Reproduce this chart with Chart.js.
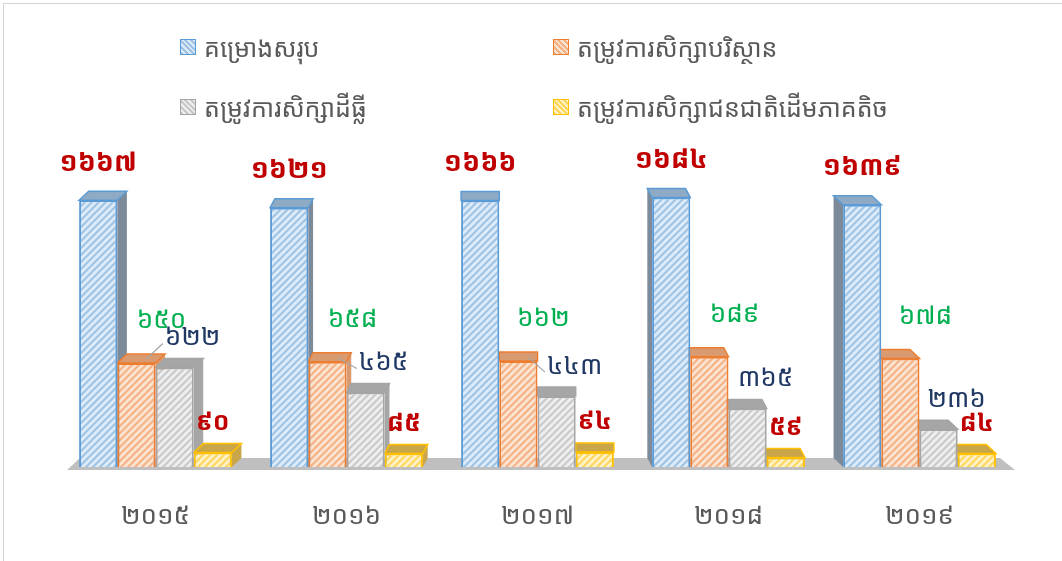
<!DOCTYPE html>
<html><head><meta charset="utf-8">
<script src="https://cdn.jsdelivr.net/npm/chart.js@4"></script>
<style>
html,body{margin:0;padding:0;background:#fff;}
#wrap{position:relative;width:1062px;height:561px;overflow:hidden;background:#fff;}
#frame{position:absolute;left:3px;top:3px;width:1100px;height:600px;border:1.5px solid #d4d4d4;}
#c{position:absolute;left:0;top:0;}
.leg{position:absolute;font-family:"Noto Sans Khmer","Noto Serif Khmer","Khmer OS System","Khmer OS",sans-serif;font-size:25px;color:#595959;white-space:nowrap;display:flex;align-items:center;height:30px;}
.sw{width:16px;height:16px;margin-right:8px;box-sizing:border-box;border:1.5px solid;}
</style></head>
<body>
<div id="wrap">
<div id="frame"></div>
<canvas id="c" width="1062" height="561"></canvas>
<div id="legend"></div>
</div>
<script>
// ---- data ----
const categories = ['២០១៥','២០១៦','២០១៧','២០១៨','២០១៩'];
const seriesNames = ['គម្រោងសរុប','តម្រូវការសិក្សាបរិស្ថាន','តម្រូវការសិក្សាដីធ្លី','តម្រូវការសិក្សាជនជាតិដើមភាគតិច'];
const totalProjects = [1667,1621,1666,1684,1639];
const envStudy = [650,658,662,689,678];
const landStudy = [622,465,443,365,236];
const indigenousStudy = [90,85,94,59,84];

// ---- styles ----
const KH = '"Noto Sans Khmer","Noto Serif Khmer","Khmer OS System","Khmer OS",sans-serif';
const borderCols = ['#5b9bd5','#ed7d31','#a5a5a5','#ffc000'];
const fillBg = ['#deebf7','#fbe3d2','#eeeeee','#fff2c4'];
const fillLine = ['#9dc3e6','#f4b183','#c9c9c9','#ffd55c'];
const topCols = ['#8faac4','#d99a70','#a6a6a6','#c9a64a'];
const labelCols = ['#c00000','#00b050','#203864','#c00000'];
const labelFonts = ['bold 27px '+KH,'26px '+KH,'26px '+KH,'bold 25px '+KH];
const labelOff = [[0,-37],[25,-42],[18,-30],[0,-30]];

const toKh = n => String(n).replace(/[0-9]/g, d => '០១២៣៤៥៦៧៨៩'[d]);

const ctx = document.getElementById('c').getContext('2d');
function hatch(bg, line){
  const c = document.createElement('canvas'); c.width = c.height = 7;
  const x = c.getContext('2d');
  x.fillStyle = bg; x.fillRect(0,0,7,7);
  x.strokeStyle = line; x.lineWidth = 2;
  x.beginPath();
  x.moveTo(-1,8); x.lineTo(8,-1);
  x.moveTo(-4,4); x.lineTo(4,-4);
  x.moveTo(3,11); x.lineTo(11,3);
  x.stroke();
  return ctx.createPattern(c,'repeat');
}

// legend (HTML)
const legPos = [[180,32],[553,32],[180,92],[553,92]];
const legEl = document.getElementById('legend');
seriesNames.forEach((n,i)=>{
  const d = document.createElement('div'); d.className='leg';
  d.style.left = legPos[i][0]+'px'; d.style.top = legPos[i][1]+'px';
  const s = document.createElement('span'); s.className='sw';
  s.style.borderColor = borderCols[i];
  s.style.background = `repeating-linear-gradient(45deg, ${fillLine[i]} 0 2px, ${fillBg[i]} 2px 4px)`;
  d.appendChild(s);
  const t = document.createElement('span'); t.textContent = n; d.appendChild(t);
  legEl.appendChild(d);
});

const seriesData = [totalProjects, envStudy, landStudy, indigenousStudy];

const threeD = {
  id:'threeD',
  beforeDatasetsDraw(chart){
    const c = chart.ctx, a = chart.chartArea;
    c.save();
    // floor
    c.fillStyle = '#bfbfbf';
    c.beginPath();
    c.moveTo(a.left+20, a.bottom-9); c.lineTo(a.right-15, a.bottom-9);
    c.lineTo(a.right, a.bottom+3); c.lineTo(a.left+7, a.bottom+3); c.closePath(); c.fill();
    const cx = (a.left+a.right)/2;
    const dy = 9;
    chart.data.datasets.forEach((ds,i)=>{
      const meta = chart.getDatasetMeta(i);
      meta.data.forEach((b,j)=>{
        const w = b.width, l = b.x - w/2, r = b.x + w/2, t = b.y, bt = b.base;
        const gx = chart.scales.x.getPixelForValue(j);
        const dx = (cx - gx)*0.025;
        // side face
        c.fillStyle = i===0 ? '#7d8a99' : topCols[i];
        c.beginPath();
        if (dx >= 0){
          c.moveTo(r,t); c.lineTo(r+dx,t-dy); c.lineTo(r+dx,bt-dy); c.lineTo(r,bt);
        } else {
          c.moveTo(l,t); c.lineTo(l+dx,t-dy); c.lineTo(l+dx,bt-dy); c.lineTo(l,bt);
        }
        c.closePath(); c.fill();
        // top face
        c.fillStyle = topCols[i];
        c.beginPath();
        c.moveTo(l,t); c.lineTo(l+dx,t-dy); c.lineTo(r+dx,t-dy); c.lineTo(r,t); c.closePath(); c.fill();
        c.strokeStyle = borderCols[i]; c.lineWidth = 1.5; c.stroke();
      });
    });
    c.restore();
  },
  afterDatasetsDraw(chart){
    const c = chart.ctx;
    c.save();
    c.textAlign = 'center'; c.textBaseline = 'middle';
    chart.data.datasets.forEach((ds,i)=>{
      const meta = chart.getDatasetMeta(i);
      meta.data.forEach((b,j)=>{
        const txt = toKh(ds.data[j]);
        const x = b.x + labelOff[i][0], y = b.y + labelOff[i][1];
        c.font = labelFonts[i]; c.fillStyle = labelCols[i];
        c.fillText(txt, x, y);
        if (i===2 && j<3){
          const o = chart.getDatasetMeta(1).data[j];
          const w = c.measureText(txt).width;
          c.strokeStyle = '#a6a6a6'; c.lineWidth = 1.2;
          c.beginPath(); c.moveTo(x - w/2 - 2, y + 6); c.lineTo(o.x + 10, o.y - 4); c.stroke();
        }
      });
    });
    c.restore();
  }
};

new Chart(ctx, {
  type:'bar',
  data:{
    labels: categories,
    datasets: seriesData.map((d,i)=>({
      label: seriesNames[i], data: d,
      backgroundColor: hatch(fillBg[i], fillLine[i]),
      borderColor: borderCols[i], borderWidth: 2,
      categoryPercentage: 0.8, barPercentage: 1.0
    }))
  },
  options:{
    responsive:false, animation:false,
    layout:{padding:{top:147,left:60,right:47,bottom:0}},
    plugins:{legend:{display:false}, tooltip:{enabled:false}},
    scales:{
      x:{grid:{display:false,drawTicks:false}, border:{display:false},
         ticks:{color:'#595959', font:{size:26, family:KH}, padding:34},
         afterFit(s){ s.height = 94; }},
      y:{display:false, min:0, max:2000}
    }
  },
  plugins:[threeD]
});
</script>
</body></html>
